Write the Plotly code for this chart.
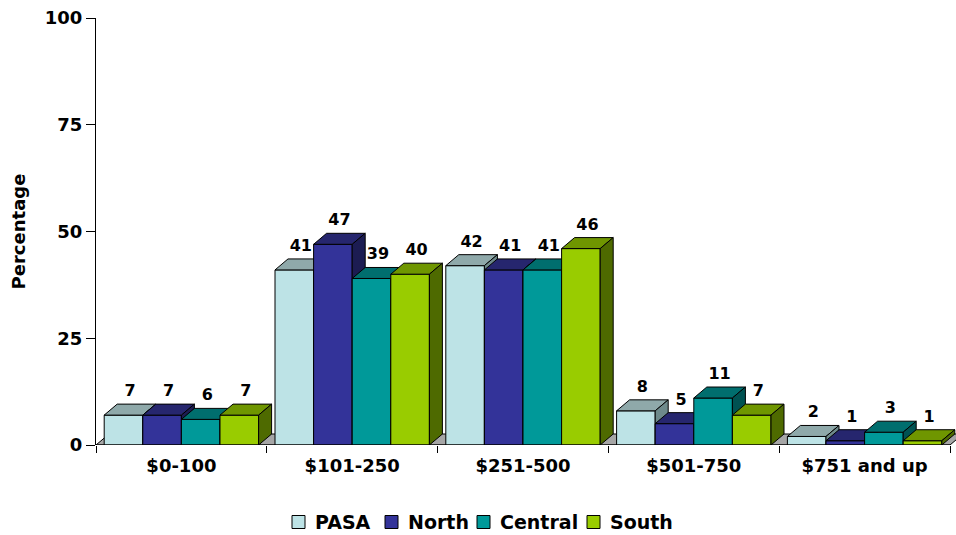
import plotly.graph_objects as go

categories = ["$0-100", "$101-250", "$251-500", "$501-750", "$751 and up"]
series_names = ["PASA", "North", "Central", "South"]
pasa = [7, 41, 42, 8, 2]
north = [7, 47, 41, 5, 1]
central = [6, 39, 41, 11, 3]
south = [7, 40, 46, 7, 1]
series_values = [pasa, north, central, south]
y_ticks = [0, 25, 50, 75, 100]

front_colors = ["#BDE3E6", "#333399", "#009999", "#99CC00"]
top_colors = ["#8FA9AA", "#26266E", "#006E6E", "#6F9600"]
side_colors = ["#6E8A8B", "#1C1C52", "#005252", "#4E6A00"]
floor_color = "#A6A6A6"

FONT = "DejaVu Sans"
W, H = 956, 535
ML, MR, MT, MB = 96, 0, 18, 90
PW, PH = W - ML - MR, H - MT - MB
n_cat = len(categories)
x_lo = -0.5
x_hi_axis = n_cat - 0.5
px_per_x = 170.8
x_hi = x_lo + PW / px_per_x
y_lo, y_hi = 0, 100
px_per_y = PH / (y_hi - y_lo)

dx = 13 / px_per_x          # depth offset in x units
dy = 11 / px_per_y          # depth offset in y units
bw = 0.226                  # bar width in x units
n_s = len(series_names)

fig = go.Figure()
outline = dict(color="black", width=1)

def poly(xs, ys, color):
    fig.add_trace(go.Scatter(
        x=xs + [xs[0]], y=ys + [ys[0]], mode="lines", fill="toself",
        fillcolor=color, line=outline, showlegend=False, hoverinfo="skip"))

# floor
poly([x_lo, x_hi_axis, x_hi_axis + dx, x_lo + dx], [0, 0, dy, dy], floor_color)

# bars, drawn left to right
for c in range(n_cat):
    for s in range(n_s):
        v = series_values[s][c]
        x0 = c - n_s * bw / 2 + s * bw
        x1 = x0 + bw
        poly([x0, x1, x1, x0], [0, 0, v, v], front_colors[s])
        poly([x0, x1, x1 + dx, x0 + dx], [v, v, v + dy, v + dy], top_colors[s])
        poly([x1, x1 + dx, x1 + dx, x1], [0, dy, v + dy, v], side_colors[s])

# value labels
lab_x, lab_y, lab_t = [], [], []
for c in range(n_cat):
    for s in range(n_s):
        v = series_values[s][c]
        x0 = c - n_s * bw / 2 + s * bw
        lab_x.append(x0 + bw / 2 + dx / 2)
        lab_y.append(v + dy + 12 / px_per_y)
        lab_t.append(str(v))
fig.add_trace(go.Scatter(
    x=lab_x, y=lab_y, text=lab_t, mode="text", textposition="middle center",
    textfont=dict(family=FONT, size=16, color="black", weight="bold"),
    showlegend=False, hoverinfo="skip", cliponaxis=False))

# boundary ticks on an overlay axis
fig.add_trace(go.Scatter(x=[None], y=[None], xaxis="x2", showlegend=False,
                         hoverinfo="skip"))

fig.add_shape(type="line", xref="x", yref="y", x0=x_lo, x1=x_hi_axis, y0=0, y1=0,
              line=dict(color="black", width=1), layer="above")

# legend (manual, below the plot)
legend_sq_px = [292, 385, 477, 587]
legend_y = (MT + PH - 522) / PH
sq = 13
for s in range(n_s):
    xs = legend_sq_px[s] - ML
    fig.add_shape(type="rect", xref="paper", yref="paper",
                  x0=xs / PW, x1=(xs + sq) / PW,
                  y0=legend_y - sq / 2 / PH, y1=legend_y + sq / 2 / PH,
                  fillcolor=front_colors[s], line=dict(color="black", width=1))
    fig.add_annotation(xref="paper", yref="paper", x=(xs + sq + 8) / PW, y=legend_y,
                       xanchor="left", yanchor="middle", showarrow=False,
                       text=series_names[s],
                       font=dict(family=FONT, size=19, color="black", weight="bold"))

fig.update_layout(
    width=W, height=H,
    margin=dict(l=ML, r=MR, t=MT, b=MB, autoexpand=False),
    showlegend=False,
    paper_bgcolor="white", plot_bgcolor="white",
    font=dict(family=FONT, color="black"),
    xaxis=dict(range=[x_lo, x_hi], tickvals=list(range(n_cat)), ticktext=categories,
               ticks="", showgrid=False, zeroline=False, showline=False,
               ticklabelstandoff=8,
               tickfont=dict(family=FONT, size=18, color="black", weight="bold")),
    xaxis2=dict(range=[x_lo, x_hi], overlaying="x", anchor="y", side="bottom",
                tickvals=[i - 0.5 for i in range(n_cat + 1)], showticklabels=False,
                ticks="outside", ticklen=7, tickcolor="black", showgrid=False,
                zeroline=False, showline=False),
    yaxis=dict(range=[y_lo, y_hi], tickvals=y_ticks, ticks="outside", ticklen=9,
               tickcolor="black", showline=True, linecolor="black", linewidth=1,
               showgrid=False, zeroline=False,
               tickfont=dict(family=FONT, size=18, color="black", weight="bold"),
               title=dict(text="Percentage", standoff=14,
                          font=dict(family=FONT, size=18, color="black", weight="bold"))),
)

fig.write_html("out.html")
